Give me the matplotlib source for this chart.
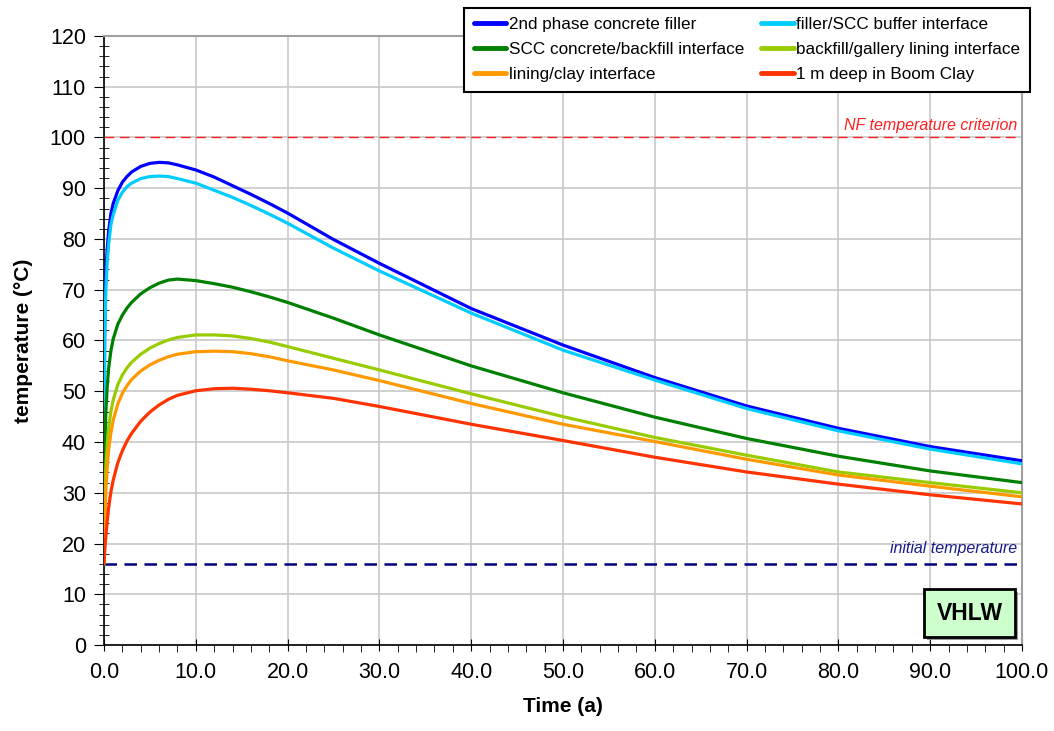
import matplotlib.pyplot as plt
import matplotlib.patheffects as pe
from matplotlib.ticker import MultipleLocator, FormatStrFormatter

plt.rcParams['font.family'] = ['Liberation Sans', 'DejaVu Sans']

# time (a)
time = [0, 0.05, 0.1, 0.2, 0.35, 0.5, 0.75, 1, 1.5, 2, 2.5, 3, 4, 5, 6, 7, 8,
        10, 12, 14, 16, 18, 20, 25, 30, 40, 50, 60, 70, 80, 90, 100]

# temperatures (deg C)
filler = [16, 60, 67, 73.5, 78, 81.5, 85, 87, 89.5, 91.2, 92.3, 93.2, 94.3, 94.9,
          95.1, 95.0, 94.6, 93.6, 92.2, 90.5, 88.8, 87.0, 85.1, 79.9, 75.2,
          66.3, 59.1, 52.7, 47.1, 42.7, 39.1, 36.3]
filler_scc = [16, 52, 62, 70, 75.5, 79, 82.8, 84.8, 87.6, 89.2, 90.3, 91.0, 91.9,
              92.3, 92.4, 92.3, 91.9, 91.0, 89.6, 88.2, 86.6, 84.9, 83.1, 78.2,
              73.7, 65.4, 58.1, 52.2, 46.6, 42.2, 38.6, 35.7]
scc_backfill = [16, 33, 40, 46, 51, 54.5, 58, 60.3, 63.2, 65.0, 66.4, 67.5, 69.2,
                70.4, 71.3, 71.9, 72.1, 71.8, 71.2, 70.5, 69.6, 68.6, 67.5, 64.4,
                61.1, 55.0, 49.7, 44.9, 40.7, 37.2, 34.3, 32.0]
backfill_lining = [16, 24, 28.5, 35, 39.5, 42.8, 46, 48.3, 51.3, 53.2, 54.6, 55.7,
                   57.3, 58.5, 59.4, 60.1, 60.6, 61.1, 61.1, 60.9, 60.4, 59.7,
                   58.8, 56.5, 54.2, 49.5, 45.0, 40.9, 37.4, 34.1, 32.0, 30.0]
lining_clay = [16, 21, 24.5, 30.5, 35, 38.5, 41.8, 44.3, 47.5, 49.6, 51.1, 52.3,
               54.0, 55.2, 56.1, 56.8, 57.3, 57.8, 57.9, 57.8, 57.4, 56.8, 56.0,
               54.2, 52.1, 47.6, 43.5, 40.1, 36.6, 33.5, 31.3, 29.2]
boom_clay = [16, 17.8, 19.2, 21.5, 24.5, 27.0, 30.2, 32.5, 35.9, 38.3, 40.2, 41.7,
             44.1, 45.9, 47.3, 48.4, 49.2, 50.1, 50.5, 50.6, 50.4, 50.1, 49.7,
             48.6, 47.0, 43.5, 40.3, 37.0, 34.1, 31.7, 29.6, 27.8]

labels = ['2nd phase concrete filler', 'filler/SCC buffer interface',
          'SCC concrete/backfill interface', 'backfill/gallery lining interface',
          'lining/clay interface', '1 m deep in Boom Clay']
series = [filler, filler_scc, scc_backfill, backfill_lining, lining_clay, boom_clay]
colors = ['#0000ff', '#00ccff', '#008000', '#99cc00', '#ff9900', '#ff3300']

nf_criterion = 100
initial_temp = 16

fig = plt.figure(figsize=(10.54, 7.31), dpi=100)
ax = fig.add_axes([0.0987, 0.1176, 0.8709, 0.8332])

lines = []
for y, c, lab in zip(series, colors, labels):
    ln, = ax.plot(time, y, color=c, lw=2.3, label=lab, solid_joinstyle='round',
                  solid_capstyle='round', zorder=3)
    lines.append(ln)

ax.axhline(nf_criterion, color='#ff2020', lw=1.0, ls=(0, (7, 4)), zorder=2)
ax.axhline(initial_temp, color='#000080', lw=1.8, ls=(0, (5, 3)), zorder=2)
ax.text(99.5, nf_criterion + 0.9, 'NF temperature criterion', color='#ff2020',
        style='italic', fontsize=11.5, ha='right', va='bottom')
ax.text(99.5, initial_temp + 1.5, 'initial temperature', color='#1a1a8c',
        style='italic', fontsize=11.5, ha='right', va='bottom')

ax.set_xlim(0, 100)
ax.set_ylim(0, 120)
ax.xaxis.set_major_locator(MultipleLocator(10))
ax.xaxis.set_minor_locator(MultipleLocator(2))
ax.yaxis.set_major_locator(MultipleLocator(10))
ax.yaxis.set_minor_locator(MultipleLocator(2))
ax.xaxis.set_major_formatter(FormatStrFormatter('%.1f'))
ax.grid(True, which='major', color='#c8c8c8', lw=1.2, zorder=0)
ax.set_axisbelow(True)

ax.tick_params(axis='both', which='major', labelsize=15.5, color='black')
ax.tick_params(axis='x', which='major', direction='inout', length=9, pad=8)
ax.tick_params(axis='x', which='minor', direction='out', length=5)
ax.tick_params(axis='y', which='major', direction='out', length=7, pad=6)
ax.tick_params(axis='y', which='minor', direction='inout', length=7)

for s in ['top', 'right']:
    ax.spines[s].set_color('#a0a0a0')
    ax.spines[s].set_linewidth(1.5)
ax.spines['left'].set_linewidth(1.2)
ax.spines['bottom'].set_linewidth(1.2)

ax.set_xlabel('Time (a)', fontsize=15, fontweight='bold', labelpad=10)
ax.set_ylabel('temperature (°C)', fontsize=15, fontweight='bold', labelpad=12)

# legend filled row by row like the reference
order = [0, 2, 4, 1, 3, 5]
leg = fig.legend([lines[i] for i in order], [labels[i] for i in order], ncol=2,
                 loc='upper right', bbox_to_anchor=(0.977, 0.989), fontsize=12.3,
                 frameon=True, fancybox=False, edgecolor='black', framealpha=1,
                 handlelength=1.9, handletextpad=0.15, columnspacing=1.0,
                 labelspacing=0.58, borderpad=0.55, borderaxespad=0)
leg.get_frame().set_linewidth(1.5)
for h in leg.get_lines():
    h.set_linewidth(3.5)

# VHLW label box with shadow
tag = ax.text(0.943, 0.052, 'VHLW', transform=ax.transAxes, fontsize=16.5,
              fontweight='bold', ha='center', va='center', zorder=6,
              bbox=dict(boxstyle='square,pad=0.55', fc='#ccffcc', ec='black', lw=2))
tag.get_bbox_patch().set_path_effects([
    pe.SimplePatchShadow(offset=(2, -2), shadow_rgbFace='#808080', alpha=0.8),
    pe.Normal()])

fig.savefig('out.png', dpi=100)
plt.close(fig)
